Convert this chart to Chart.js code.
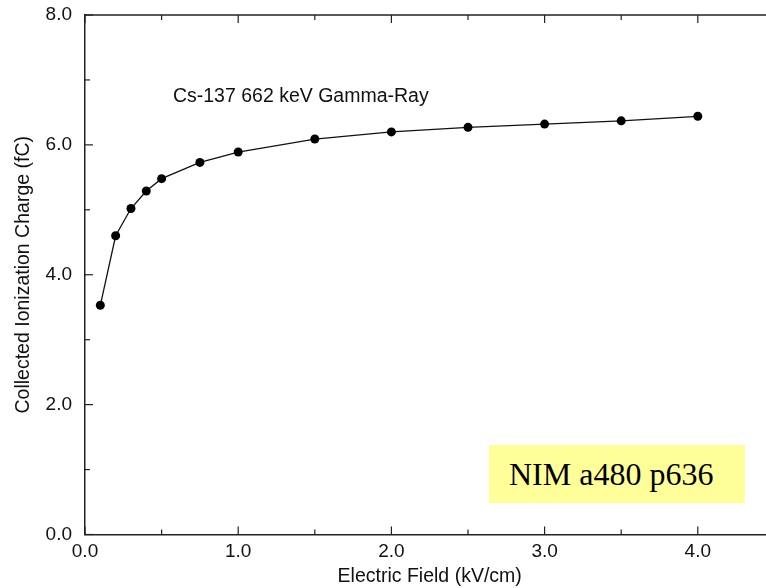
<!DOCTYPE html>
<html>
<head>
<meta charset="utf-8">
<script src="https://cdn.jsdelivr.net/npm/chart.js@4/dist/chart.umd.min.js"></script>
<style>
  html, body { margin: 0; padding: 0; background: #fff; overflow: hidden; width: 766px; height: 588px; }
  #wrap { position: relative; width: 766px; height: 588px; overflow: hidden; }
  canvas { position: absolute; left: 0; top: 0; }
  #note { position: absolute; left: 489px; top: 445px; width: 256px; height: 58px; background: #ffff99;
          font-family: "Liberation Serif", "Times New Roman", serif; font-size: 32px; color: #000;
          line-height: 58px; box-sizing: border-box; padding-left: 20px; }
</style>
</head>
<body>
<div id="wrap">
  <canvas id="c" width="780" height="588"></canvas>
  <div id="note">NIM a480 p636</div>
</div>
<script>
// Data
const fieldValues = [0.1, 0.2, 0.3, 0.4, 0.5, 0.75, 1.0, 1.5, 2.0, 2.5, 3.0, 3.5, 4.0];
const chargeValues = [3.53, 4.60, 5.02, 5.29, 5.48, 5.73, 5.89, 6.09, 6.20, 6.27, 6.32, 6.37, 6.44];
const xTitle = "Electric Field (kV/cm)";
const yTitle = "Collected Ionization Charge (fC)";
const annotationText = "Cs-137 662 keV Gamma-Ray";
const annotationAt = { x: 0.574, y: 6.74 };

const points = fieldValues.map((x, i) => ({ x: x, y: chargeValues[i] }));
const FONT = "'Liberation Sans', Arial, Helvetica, sans-serif";

const frame = {
  id: 'frame',
  afterDraw(chart) {
    const ctx = chart.ctx;
    const xs = chart.scales.x, ys = chart.scales.y;
    const a = chart.chartArea;
    ctx.save();
    ctx.strokeStyle = '#222';
    ctx.lineWidth = 1.5;
    // top spine
    ctx.beginPath();
    ctx.moveTo(a.left, a.top);
    ctx.lineTo(a.right, a.top);
    ctx.stroke();
    ctx.lineWidth = 1.2;
    // x ticks (inward, bottom and top)
    for (let v = 0; v <= 4.5 + 1e-9; v += 0.5) {
      const px = xs.getPixelForValue(v);
      const major = Math.abs(v - Math.round(v)) < 1e-9;
      const len = major ? 8 : 5;
      ctx.beginPath();
      ctx.moveTo(px, a.bottom); ctx.lineTo(px, a.bottom - len);
      ctx.moveTo(px, a.top); ctx.lineTo(px, a.top + len);
      ctx.stroke();
    }
    // y ticks (inward, left)
    for (let v = 0; v <= 8; v += 1) {
      const py = ys.getPixelForValue(v);
      const len = (v % 2 === 0) ? 8 : 5;
      ctx.beginPath();
      ctx.moveTo(a.left, py); ctx.lineTo(a.left + len, py);
      ctx.stroke();
    }
    // annotation text
    ctx.fillStyle = '#111';
    ctx.font = "19.5px " + FONT;
    ctx.textAlign = 'left';
    ctx.textBaseline = 'middle';
    ctx.fillText(annotationText, xs.getPixelForValue(annotationAt.x), ys.getPixelForValue(annotationAt.y));
    ctx.restore();
  }
};

new Chart(document.getElementById('c'), {
  type: 'line',
  data: {
    datasets: [{
      data: points,
      borderColor: '#111',
      borderWidth: 1.3,
      backgroundColor: '#000',
      pointBackgroundColor: '#000',
      pointBorderColor: '#000',
      pointRadius: 4.5,
      pointBorderWidth: 0,
      tension: 0,
      fill: false
    }]
  },
  options: {
    responsive: false,
    animation: false,
    events: [],
    layout: { padding: { top: 15, right: 5.6, left: 0, bottom: 0 } },
    plugins: { legend: { display: false }, tooltip: { enabled: false } },
    scales: {
      x: {
        type: 'linear',
        min: 0, max: 4.5,
        afterFit(s) { s.height = 53.5; s.paddingLeft = 0; s.paddingRight = 0; },
        grid: { display: false, drawTicks: false },
        border: { display: true, color: '#222', width: 1.5 },
        ticks: {
          stepSize: 0.5, autoSkip: false, maxRotation: 0, padding: 6,
          color: '#111', font: { family: FONT, size: 19 },
          callback: (v) => (Math.abs(v - Math.round(v)) < 1e-9 ? Number(v).toFixed(1) : '')
        },
        title: { display: true, text: xTitle, color: '#111', font: { family: FONT, size: 19.5 }, padding: { top: 0, bottom: 0 } }
      },
      y: {
        type: 'linear',
        min: 0, max: 8,
        afterFit(s) { s.width = 85; s.paddingTop = 0; s.paddingBottom = 0; },
        grid: { display: false, drawTicks: false },
        border: { display: true, color: '#222', width: 1.5 },
        ticks: {
          stepSize: 1, autoSkip: false, padding: 13,
          color: '#111', font: { family: FONT, size: 19 },
          callback: (v) => (v % 2 === 0 ? Number(v).toFixed(1) : '')
        },
        title: { display: true, text: yTitle, color: '#111', font: { family: FONT, size: 19.5 }, padding: { top: 12, bottom: 0 } }
      }
    }
  },
  plugins: [frame]
});
</script>
</body>
</html>
